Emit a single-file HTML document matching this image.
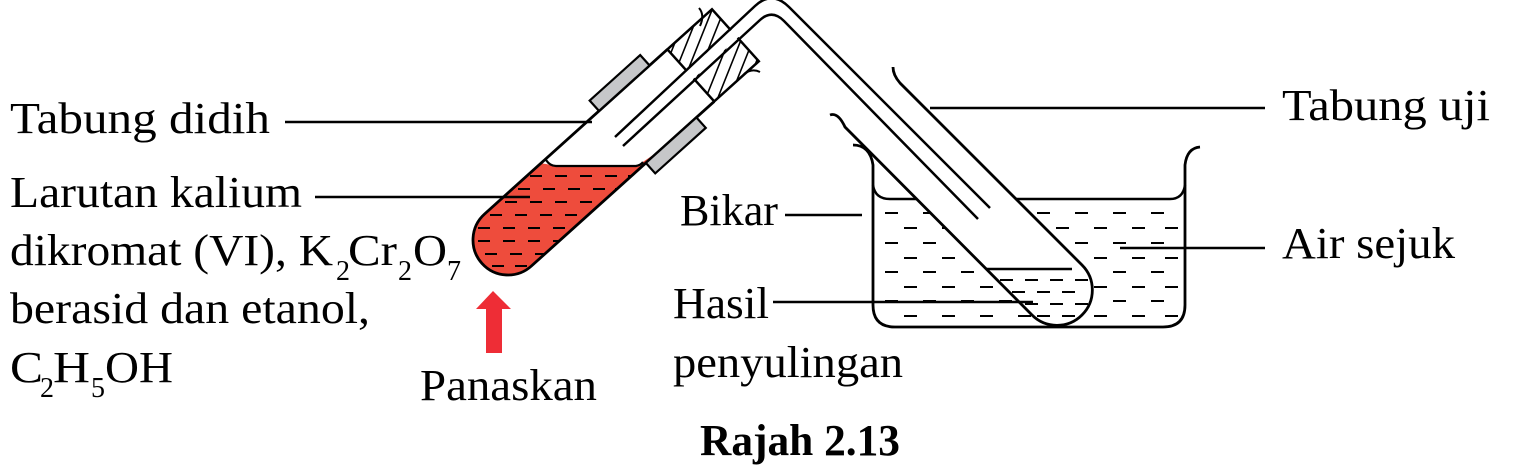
<!DOCTYPE html>
<html><head><meta charset="utf-8"><style>
html,body{margin:0;padding:0;background:#fff;}
svg{display:block;}
text{font-family:"Liberation Serif",serif;fill:#000;}
</style></head><body>
<svg width="1526" height="470" viewBox="0 0 1526 470" xmlns="http://www.w3.org/2000/svg">
<defs>
  <clipPath id="btube" clipPathUnits="userSpaceOnUse">
    <path transform="translate(508,240) rotate(-42)" d="M246,-35 L0,-35 A35,35 0 0 0 0,35 L246,35 Z"/>
  </clipPath>
  <clipPath id="stop" clipPathUnits="userSpaceOnUse">
    <rect transform="translate(508,240) rotate(-42)" x="246" y="-35" width="60" height="70"/>
  </clipPath>
  <clipPath id="ttube" clipPathUnits="userSpaceOnUse">
    <path d="M845,127 L1032,315 A35,35 0 0 0 1082,265 L900,83 Z"/>
  </clipPath>
</defs>

<!-- Beaker -->
<path d="M853,145 Q870,145 873,165 L873,305 Q873,327 895,327 L1163,327 Q1185,327 1185,305 L1185,165 Q1187,148 1200,147" fill="none" stroke="#000" stroke-width="2.8"/>
<path d="M873,185 Q875,199 890,199 L1170,199 Q1183,199 1185,185" fill="none" stroke="#000" stroke-width="2.5"/>
<path stroke="#000" stroke-width="2" fill="none" d="
M885,213h13 M923,213h13 M961,213h13 M999,213h13 M1037,213h13 M1075,213h13 M1113,213h13 M1151,213h13
M904,228h13 M942,228h13 M980,228h13 M1018,228h13 M1056,228h13 M1094,228h13 M1132,228h13 M1165,228h13
M885,243h13 M923,243h13 M961,243h13 M999,243h13 M1037,243h13 M1075,243h13 M1113,243h13 M1151,243h13
M904,258h13 M942,258h13 M980,258h13 M1018,258h13 M1056,258h13 M1094,258h13 M1132,258h13 M1165,258h13
M885,272h13 M923,272h13 M961,272h13 M999,272h13 M1037,272h13 M1075,272h13 M1113,272h13 M1151,272h13
M904,287h13 M942,287h13 M980,287h13 M1018,287h13 M1056,287h13 M1094,287h13 M1132,287h13 M1165,287h13
M885,301h13 M923,301h13 M961,301h13 M999,301h13 M1037,301h13 M1075,301h13 M1113,301h13 M1151,301h13
M904,316h13 M942,316h13 M980,316h13 M1018,316h13 M1056,316h13 M1094,316h13 M1132,316h13 M1165,316h13"/>

<!-- Test tube -->
<path d="M845,127 L1032,315 A35,35 0 0 0 1082,265 L900,83 Z" fill="#fff" stroke="none"/>
<g clip-path="url(#ttube)">
  <path d="M980,269 L1072,269" stroke="#000" stroke-width="2.5" fill="none"/>
  <path stroke="#000" stroke-width="2" fill="none" d="
  M1000,280h13 M1025,280h13 M1050,280h13 M1075,280h13
  M1012,292h13 M1037,292h13 M1062,292h13
  M1000,304h13 M1025,304h13 M1050,304h13 M1075,304h13
  M1012,316h13 M1037,316h13 M1062,316h13"/>
</g>
<path d="M830,115 Q838,112 845,127 L1032,315 A35,35 0 0 0 1082,265 L900,83 Q893,75 893,67" fill="none" stroke="#000" stroke-width="2.8"/>

<!-- Boiling tube -->
<g clip-path="url(#btube)">
  <path d="M440,163 Q546,160 552,166 L636,166 Q642,163 660,150 L660,300 L440,300 Z" fill="#ee4c3c"/>
  <path stroke="#000" stroke-width="2" fill="none" d="
  M530,176h12 M555,176h12 M580,176h12 M605,176h12 M628,176h12
  M518,189h12 M543,189h12 M568,189h12 M593,189h12 M615,189h12
  M505,202h12 M530,202h12 M555,202h12 M580,202h12 M603,202h12
  M490,215h12 M515,215h12 M540,215h12 M565,215h12 M588,215h12
  M478,228h12 M503,228h12 M528,228h12 M553,228h12 M575,228h12
  M478,241h12 M503,241h12 M528,241h12 M553,241h12
  M485,254h12 M510,254h12 M535,254h12
  M492,266h12 M515,266h12"/>
</g>
<path d="M546,160 Q550,166 556,166 L636,166 Q641,165 643,162" fill="none" stroke="#000" stroke-width="2.2"/>
<g transform="translate(508,240) rotate(-42)">
  <path d="M246,-35 L0,-35 A35,35 0 0 0 0,35 L246,35" fill="none" stroke="#000" stroke-width="2.8"/>
  <rect x="154" y="-49" width="68" height="14" fill="#c6c7c9" stroke="#000" stroke-width="2.2"/>
  <rect x="154" y="35" width="68" height="14" fill="#c6c7c9" stroke="#000" stroke-width="2.2"/>
  <rect x="246" y="-35" width="60" height="70" fill="#fff"/>
</g>
<g clip-path="url(#stop)" stroke="#000" stroke-width="1.6">
  <line x1="660" y1="80" x2="700" y2="-20"/>
  <line x1="672" y1="80" x2="712" y2="-20"/>
  <line x1="684" y1="80" x2="724" y2="-20"/>
  <line x1="696" y1="80" x2="736" y2="-20"/>
  <line x1="705" y1="100" x2="745" y2="0"/>
  <line x1="717" y1="100" x2="757" y2="0"/>
  <line x1="729" y1="100" x2="769" y2="0"/>
  <line x1="741" y1="100" x2="781" y2="0"/>
</g>
<g transform="translate(508,240) rotate(-42)">
  <rect x="246" y="-35" width="60" height="70" fill="none" stroke="#000" stroke-width="2.5"/>
</g>
<path d="M699,8 Q705,15 700,26" fill="none" stroke="#000" stroke-width="2"/>
<path d="M744,74 Q752,68 760,72" fill="none" stroke="#000" stroke-width="2"/>

<!-- Delivery tube -->
<path d="M619,141 L757,13 Q772,0 786,14 L984,213" fill="none" stroke="#fff" stroke-width="10"/>
<path d="M615,137 L755,6 Q772,-10 789,7 L990,208" fill="none" stroke="#000" stroke-width="2.5"/>
<path d="M623,146 L760,20 Q772,9 784,21 L978,219" fill="none" stroke="#000" stroke-width="2.5"/>

<!-- Leader lines -->
<g stroke="#000" stroke-width="2.5">
  <line x1="285" y1="122" x2="592" y2="122"/>
  <line x1="315" y1="197" x2="530" y2="197"/>
  <line x1="785" y1="215" x2="862" y2="215"/>
  <line x1="773" y1="302" x2="1033" y2="302"/>
  <line x1="930" y1="108" x2="1265" y2="108"/>
  <line x1="1120" y1="248" x2="1265" y2="248"/>
</g>

<!-- Heat arrow -->
<path d="M493,291 L511,309 L502,309 L502,353 L486,353 L486,309 L476,309 Z" fill="#ee2d36"/>

<!-- Labels -->
<g font-size="44">
  <text x="10" y="133" textLength="260" lengthAdjust="spacingAndGlyphs">Tabung didih</text>
  <text x="10" y="207" textLength="292" lengthAdjust="spacingAndGlyphs">Larutan kalium</text>
  <text x="10" y="265" textLength="323" lengthAdjust="spacingAndGlyphs">dikromat (VI), K</text>
  <text x="348" y="265" textLength="49" lengthAdjust="spacingAndGlyphs">Cr</text>
  <text x="413" y="265" textLength="34" lengthAdjust="spacingAndGlyphs">O</text>
  <text x="10" y="323" textLength="360" lengthAdjust="spacingAndGlyphs">berasid dan etanol,</text>
  <text x="10" y="382" textLength="33" lengthAdjust="spacingAndGlyphs">C</text>
  <text x="53" y="382" textLength="37" lengthAdjust="spacingAndGlyphs">H</text>
  <text x="105" y="382" textLength="68" lengthAdjust="spacingAndGlyphs">OH</text>
  <text x="420" y="400" textLength="177" lengthAdjust="spacingAndGlyphs">Panaskan</text>
  <text x="680" y="225" textLength="98" lengthAdjust="spacingAndGlyphs">Bikar</text>
  <text x="673" y="318" textLength="96" lengthAdjust="spacingAndGlyphs">Hasil</text>
  <text x="673" y="377" textLength="230" lengthAdjust="spacingAndGlyphs">penyulingan</text>
  <text x="1282" y="120" textLength="208" lengthAdjust="spacingAndGlyphs">Tabung uji</text>
  <text x="1282" y="258" textLength="173" lengthAdjust="spacingAndGlyphs">Air sejuk</text>
  <text x="700" y="455" font-weight="bold" textLength="200" lengthAdjust="spacingAndGlyphs">Rajah 2.13</text>
</g>
<g font-size="28">
  <text x="336" y="280">2</text>
  <text x="398" y="280">2</text>
  <text x="447" y="280">7</text>
  <text x="40" y="397">2</text>
  <text x="91" y="397">5</text>
</g>
</svg>
</body></html>
